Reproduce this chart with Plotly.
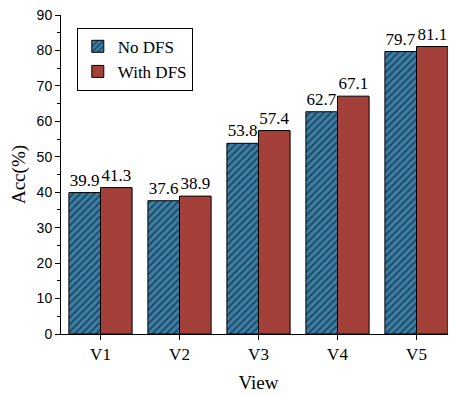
import plotly.graph_objects as go

views = ["V1", "V2", "V3", "V4", "V5"]
no_dfs = [39.9, 37.6, 53.8, 62.7, 79.7]
with_dfs = [41.3, 38.9, 57.4, 67.1, 81.1]

serif = "Liberation Serif"
sans = "Liberation Sans"

fig = go.Figure()
fig.add_trace(go.Bar(
    x=views, y=no_dfs, name="No DFS",
    marker=dict(color="#3A7EA6", line=dict(color="black", width=1),
                pattern=dict(shape="/", fgcolor="black", bgcolor="#3A7EA6", size=5, solidity=0.3)),
    text=[f"{v:.1f}" for v in no_dfs], textposition="outside",
    textfont=dict(family=serif, size=17, color="black"), cliponaxis=False,
))
fig.add_trace(go.Bar(
    x=views, y=with_dfs, name="With DFS",
    marker=dict(color="#A3403A", line=dict(color="black", width=1)),
    text=[f"{v:.1f}" for v in with_dfs], textposition="outside",
    textfont=dict(family=serif, size=17, color="black"), cliponaxis=False,
))

# page body has an 8px default margin, so the figure is drawn 8px smaller
fig.update_layout(
    width=448, height=387,
    margin=dict(l=53, r=0, t=7, b=61, autoexpand=False),
    plot_bgcolor="white", paper_bgcolor="white",
    barmode="group", bargap=0.2, bargroupgap=0,
    showlegend=True,
    font=dict(family=serif, color="black"),
    legend=dict(x=0.04, y=0.96, xanchor="left", yanchor="top",
                bordercolor="black", borderwidth=1, bgcolor="white",
                font=dict(family=serif, size=17, color="black"),
                itemwidth=30, tracegroupgap=0),
    xaxis=dict(
        title=dict(text="View", font=dict(family=serif, size=19, color="black"), standoff=12),
        tickfont=dict(family=serif, size=17, color="black"),
        showline=True, linecolor="black", linewidth=1,
        ticks="outside", ticklen=5, tickcolor="black",
        minor=dict(ticks="outside", ticklen=3, tickcolor="black"),
        range=[-0.5, 4.5], showgrid=False, automargin=False,
    ),
    yaxis=dict(
        title=dict(text="Acc(%)", font=dict(family=serif, size=19, color="black"), standoff=8),
        tickfont=dict(family=sans, size=14, color="black"),
        range=[0, 90], dtick=10, tick0=0, ticklabeloverflow="allow",
        showline=True, linecolor="black", linewidth=1,
        ticks="outside", ticklen=5, tickcolor="black",
        minor=dict(ticks="outside", ticklen=3, tickcolor="black", dtick=5),
        showgrid=False, zeroline=False, automargin=False,
    ),
)

fig.write_html("out.html")
